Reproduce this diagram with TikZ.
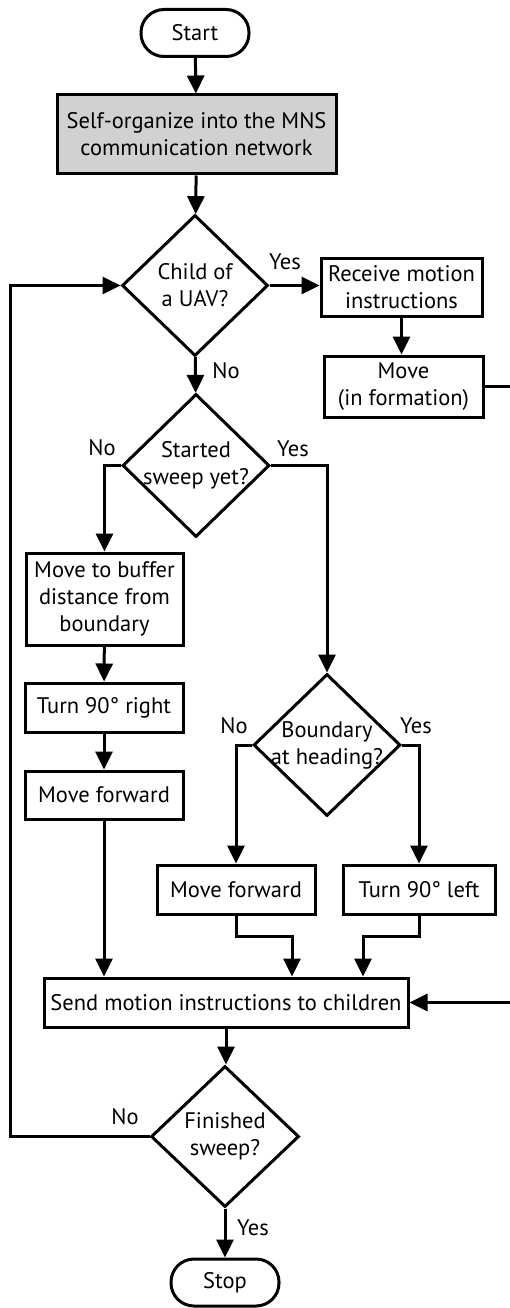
\documentclass[tikz,border=0pt]{standalone}
\usepackage{fontspec}
\setmainfont{PT Sans}
\usetikzlibrary{arrows.meta,shapes.geometric}

\begin{document}
\begin{tikzpicture}
      [ x=1pt, y=-1pt
      , every node/.style={font=\fontsize{22.5}{27}\selectfont}
      , process/.style={draw, line width=3pt, rectangle, align=center, inner sep=0pt}
      , terminal/.style={draw, line width=3pt, rectangle, rounded corners=23pt, minimum width=108pt, minimum height=47pt}
      , decision/.style={draw, line width=3pt, diamond, align=center, inner sep=-7pt}
      , flow/.style={line width=3pt, -{Triangle[length=18pt,width=17pt]}}
      ]
    \useasboundingbox (0,0) rectangle (510,1308);

    \node[terminal] (start) at (195,33) {Start};
    \node[process, fill=black!18, minimum width=279pt, minimum height=79pt] (org) at (196.5,134.5) {Self-organize into the MNS\\communication network};
    \node[decision, minimum width=146pt, minimum height=141pt] (child) at (195,285.5) {Child of\\a UAV?};
    \node[process, minimum width=161pt, minimum height=58pt] (receive) at (401.5,287) {Receive motion\\instructions};
    \node[process, minimum width=159pt, minimum height=61pt] (formation) at (403.5,386.5) {Move\\(in formation)};
    \node[decision, minimum width=147pt, minimum height=143pt] (started) at (196,465.5) {Started\\sweep yet?};
    \node[process, minimum width=157pt, minimum height=92pt] (buffer) at (104.5,599) {Move to buffer\\distance from\\boundary};
    \node[process, minimum width=158pt, minimum height=49pt] (right90) at (104,707.5) {Turn 90° right};
    \node[process, minimum width=158pt, minimum height=48pt] (fwdA) at (104,795) {Move forward};
    \node[decision, minimum width=147pt, minimum height=142pt] (boundary) at (327,745) {Boundary\\at heading?};
    \node[process, minimum width=158pt, minimum height=49pt] (fwdB) at (236,889.5) {Move forward};
    \node[process, minimum width=152pt, minimum height=49pt] (left90) at (419,889.5) {Turn 90° left};
    \node[process, minimum width=364pt, minimum height=49pt] (send) at (226,1002.5) {Send motion instructions to children};
    \node[decision, minimum width=148pt, minimum height=141pt] (finished) at (225,1136.5) {Finished\\sweep?};
    \node[terminal] (stop) at (225,1282.5) {Stop};

    \node (yChild) at (285,262) {Yes};
    \node (nChild) at (226,371) {No};
    \node (nStarted) at (102,448) {No};
    \node (yStarted) at (293,449) {Yes};
    \node (nBoundary) at (234,726) {No};
    \node (yBoundary) at (416,726) {Yes};
    \node (nFinished) at (125,1117) {No};
    \node (yFinished) at (253,1228) {Yes};

    \coordinate (fmA) at (513,386.5);
    \coordinate (fmB) at (513,1002.5);
    \coordinate (loopA) at (10,1136.5);
    \coordinate (loopB) at (10,285.5);
    \coordinate (joinA) at (292,936);
    \coordinate (joinB) at (363,936);

    \draw[flow] (start) -- (org);
    \draw[flow] (org) -- (child);
    \draw[flow] (child.east) -- (child.east -| receive.west);
    \draw[flow] (receive.south) -- (receive.south |- formation.north);
    \draw[flow] (child) -- (started);
    \draw[flow] (started.west) -| (buffer.north);
    \draw[flow] (started.east) -| (boundary.north);
    \draw[flow] (buffer) -- (right90);
    \draw[flow] (right90) -- (fwdA);
    \draw[flow] (fwdA.south) -- (fwdA.south |- send.north);
    \draw[flow] (boundary.west) -| (fwdB.north);
    \draw[flow] (boundary.east) -| (left90.north);
    \draw[flow] (fwdB.south) |- (joinA) -- (joinA |- send.north);
    \draw[flow] (left90.south) |- (joinB) -- (joinB |- send.north);
    \draw[flow] (formation.east) -- (fmA) -- (fmB) -- (send.east);
    \draw[flow] (send.south) -- (send.south |- finished.north);
    \draw[flow] (finished) -- (stop);
    \draw[flow] (finished.west) -- (loopA) -- (loopB) -- (child.west);
\end{tikzpicture}
\end{document}
